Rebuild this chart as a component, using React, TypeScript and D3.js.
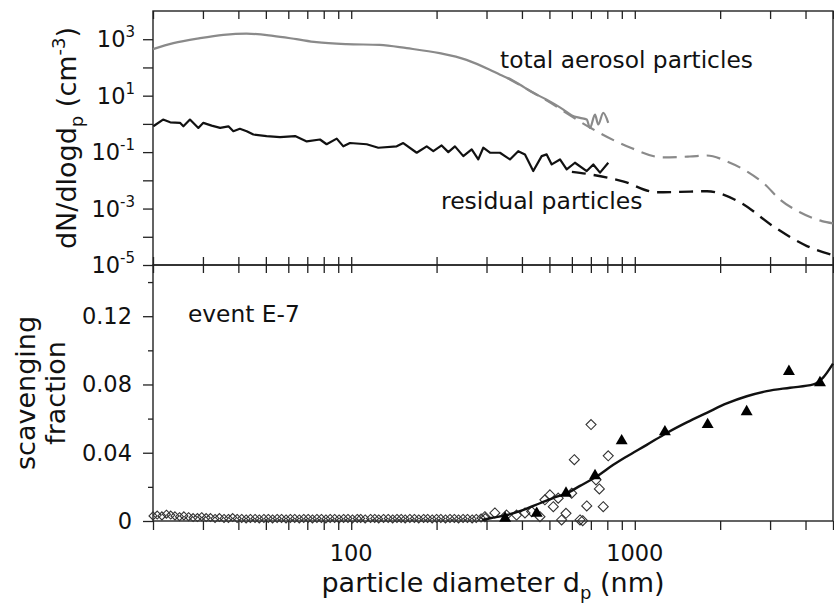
import { useEffect, useRef } from "react";
import * as d3 from "d3";

// top panel: size distributions, [diameter nm, dN/dlogdp cm^-3]
const totalSmps: [number, number][] = [
  [20, 445], [23.6, 724], [29.3, 1087], [35.4, 1422], [42.7, 1581], [53, 1313],
  [64.1, 1002], [75.4, 785], [96.2, 668], [126, 631], [157, 482], [205, 321],
  [255, 186], [308, 83], [335, 55], [365, 38], [394, 24.4], [430, 14], [489, 7.2],
  [525, 4.8], [560, 3.2], [600, 2.0], [641, 1.63], [677, 1.42], [695, 0.72],
  [724, 2.13], [743, 0.95], [774, 2.45], [806, 1.09],
];
const totalFit: [number, number][] = [
  [354, 43], [490, 6.7], [695, 0.74], [962, 0.146], [1257, 0.065], [1564, 0.07],
  [1796, 0.076], [2113, 0.047], [2484, 0.0207], [2875, 0.0072], [3250, 0.0021],
  [3822, 7.4e-4], [4570, 3.6e-4], [5000, 3.0e-4],
];
const residSmps: [number, number][] = [
  [20.05, 0.824], [21.7, 1.42], [23.0, 1.14], [24.9, 1.09], [25.6, 0.82], [27.0, 1.42],
  [28.9, 0.72], [30.1, 1.09], [32.2, 0.87], [34.5, 0.72], [36.9, 0.82], [38.4, 0.55],
  [40.5, 0.67], [42.8, 0.55], [45.2, 0.42], [50.3, 0.37], [56.1, 0.34], [63.4, 0.37],
  [69.7, 0.24], [77.6, 0.28], [81.9, 0.19], [88.9, 0.3], [93.8, 0.16], [99, 0.21],
  [113.4, 0.19], [124.6, 0.143], [144.7, 0.16], [152.6, 0.21], [170.2, 0.095],
  [184.6, 0.16], [194.8, 0.108], [208.4, 0.172], [220, 0.1], [232.2, 0.16],
  [248.5, 0.072], [266, 0.124], [280.6, 0.055], [292.2, 0.143], [308.6, 0.095],
  [334.6, 0.095], [362.9, 0.055], [388.1, 0.108], [410, 0.083], [438.5, 0.0213],
  [469.5, 0.072], [489, 0.083], [509.3, 0.0366], [544.8, 0.055], [575.2, 0.0244],
  [615.2, 0.042], [676.8, 0.0213], [714, 0.0366], [754, 0.0187], [806.3, 0.042],
];
const residFit: [number, number][] = [
  [600, 0.02], [695, 0.0163], [908, 0.0092], [1197, 0.00377], [1443, 0.0039],
  [1797, 0.0041], [2349, 0.00167], [3070, 2.4e-4], [4047, 4.7e-5], [5000, 2.25e-5],
];

// bottom panel: scavenging fraction, [diameter nm, fraction]
const smpsFraction: [number, number][] = [
  [20.0, 0.003], [20.7, 0.0035], [21.5, 0.003], [22.3, 0.004], [23.1, 0.0035], [23.9, 0.003],
  [24.8, 0.0025], [25.7, 0.003], [26.7, 0.0025], [27.7, 0.002], [28.7, 0.002], [29.7, 0.0025],
  [30.8, 0.002], [31.9, 0.002], [33.1, 0.0015], [34.3, 0.002], [35.6, 0.0015], [36.9, 0.0015],
  [38.2, 0.002], [39.6, 0.0015], [41.1, 0.0015], [42.6, 0.0012], [44.1, 0.0015], [45.8, 0.0015],
  [47.4, 0.0012], [49.2, 0.0015], [51.0, 0.0015], [52.8, 0.0012], [54.8, 0.0015], [56.8, 0.0015],
  [58.9, 0.0012], [61.0, 0.0015], [63.2, 0.0015], [65.6, 0.0012], [68.0, 0.0015], [70.5, 0.0015],
  [73.0, 0.0012], [75.7, 0.0015], [78.5, 0.0015], [81.4, 0.0012], [84.3, 0.0015], [87.4, 0.0015],
  [90.6, 0.0012], [94.0, 0.0015], [97.4, 0.0015], [101, 0.0012], [105, 0.0015], [108, 0.0015],
  [112, 0.0012], [117, 0.0015], [121, 0.0015], [125, 0.0012], [130, 0.0015], [135, 0.0015],
  [140, 0.0012], [145, 0.0015], [150, 0.0015], [155, 0.0012], [161, 0.0015], [167, 0.0015],
  [173, 0.0012], [180, 0.0015], [186, 0.0015], [193, 0.0012], [200, 0.0015], [207, 0.0015],
  [215, 0.0012], [223, 0.0015], [231, 0.0015], [239, 0.0012], [248, 0.0015], [257, 0.0015],
  [267, 0.0012], [276, 0.0015], [287, 0.0018], [297, 0.002],
];
const opcFraction: [number, number][] = [
  [296, 0.0025], [321, 0.0047], [353, 0.0035], [383, 0.0035], [410, 0.0047], [433, 0.0055],
  [463, 0.0025], [482, 0.0124], [502, 0.0153], [516, 0.0084], [537, 0.0134], [552, 0.0006],
  [572, 0.0045], [599, 0.0163], [612, 0.0359], [641, 0.0006], [655, 0.0002], [677, 0.0088],
  [701, 0.0565], [730, 0.0241], [750, 0.0188], [774, 0.0084], [806, 0.0382],
];
const modelFraction: [number, number][] = [
  [349, 0.0016], [451, 0.0045], [572, 0.0163], [724, 0.0265], [899, 0.047], [1277, 0.0522],
  [1807, 0.0565], [2480, 0.064], [3496, 0.0876], [4498, 0.081],
];
const fitFraction: [number, number][] = [
  [290, 0.0005], [309, 0.0016], [354, 0.0035], [405, 0.0065], [463, 0.0104], [531, 0.0143],
  [576, 0.0163], [641, 0.0206], [734, 0.0261], [840, 0.0329], [937, 0.0378], [1102, 0.0446],
  [1296, 0.0516], [1525, 0.0578], [1794, 0.0634], [2110, 0.0689], [2483, 0.0731],
  [2920, 0.0761], [3529, 0.0781], [4265, 0.08], [4613, 0.084], [5000, 0.0922],
];

const topExponents = [3, 1, -1, -3, -5];
const fracTicks = [0, 0.04, 0.08, 0.12];
const fracMinor = [0.02, 0.06, 0.1, 0.14];
const xLabels = [100, 1000];

const W = 834, H = 608;
const L = 153, R = 833, T = 11, MID = 265, B = 521;
const FONT = "'DejaVu Sans', sans-serif";

export default function App() {
  const ref = useRef<SVGSVGElement>(null);

  useEffect(() => {
    const svg = d3.select(ref.current);
    svg.selectAll("*").remove();

    const x = d3.scaleLog().domain([20, 5000]).range([L, R]);
    const yTop = d3.scaleLog().domain([1e-5, 1e4]).range([MID, T]);
    const yBot = d3.scaleLinear().domain([0, 0.15]).range([B, MID]);
    const xTicks = x.ticks();

    const ink = "#222";
    const axis = (g: any) => {
      g.select(".domain").remove();
      g.selectAll("line").attr("stroke", ink).attr("stroke-width", 1.3);
    };

    // x ticks on every horizontal edge
    svg.append("g").attr("transform", `translate(0,${T})`)
      .call(d3.axisBottom(x).tickValues(xTicks).tickSize(8).tickFormat(() => "")).call(axis);
    svg.append("g").attr("transform", `translate(0,${MID})`)
      .call(d3.axisTop(x).tickValues(xTicks).tickSize(8).tickFormat(() => "")).call(axis);
    svg.append("g").attr("transform", `translate(0,${MID})`)
      .call(d3.axisBottom(x).tickValues(xTicks).tickSize(8).tickFormat(() => "")).call(axis);
    svg.append("g").attr("transform", `translate(0,${B})`)
      .call(d3.axisBottom(x).tickValues(xTicks).tickSize(9).tickFormat(() => "")).call(axis);

    // y ticks
    const decades = d3.range(-5, 4).map(e => Math.pow(10, e));
    svg.append("g").attr("transform", `translate(${L},0)`)
      .call(d3.axisLeft(yTop).tickValues(decades).tickSize(10).tickFormat(() => "")).call(axis);
    svg.append("g").attr("transform", `translate(${L},0)`)
      .call(d3.axisLeft(yBot).tickValues(fracTicks).tickSize(10).tickFormat(() => "")).call(axis);
    svg.append("g").attr("transform", `translate(${L},0)`)
      .call(d3.axisLeft(yBot).tickValues(fracMinor).tickSize(5).tickFormat(() => "")).call(axis);

    // frames
    [[T, MID], [MID, B]].forEach(([a, b]) => {
      svg.append("rect").attr("x", L).attr("y", a).attr("width", R - L).attr("height", b - a)
        .attr("fill", "none").attr("stroke", ink).attr("stroke-width", 1.4);
    });

    // top panel lines
    const smooth = d3.line<[number, number]>().x(d => x(d[0])).y(d => yTop(d[1])).curve(d3.curveMonotoneX);
    const jagged = d3.line<[number, number]>().x(d => x(d[0])).y(d => yTop(d[1]));
    svg.append("path").attr("d", smooth(totalFit)).attr("fill", "none")
      .attr("stroke", "#8a8a8a").attr("stroke-width", 2.2).attr("stroke-dasharray", "14,8");
    svg.append("path").attr("d", smooth(residFit)).attr("fill", "none")
      .attr("stroke", "#111").attr("stroke-width", 2.4).attr("stroke-dasharray", "14,8");
    svg.append("path").attr("d", smooth(totalSmps)).attr("fill", "none")
      .attr("stroke", "#8a8a8a").attr("stroke-width", 2.2);
    svg.append("path").attr("d", jagged(residSmps))
      .attr("fill", "none").attr("stroke", "#111").attr("stroke-width", 2.2).attr("stroke-linejoin", "round");

    // bottom panel
    const small = "M0,-4L4,0L0,4L-4,0Z";
    const big = "M0,-5L5,0L0,5L-5,0Z";
    svg.append("g").selectAll("path").data(smpsFraction).join("path")
      .attr("d", small)
      .attr("transform", d => `translate(${x(d[0])},${yBot(d[1])})`)
      .attr("fill", "none").attr("stroke", "#333").attr("stroke-width", 1.1);
    svg.append("g").selectAll("path").data(opcFraction).join("path")
      .attr("d", big)
      .attr("transform", d => `translate(${x(d[0])},${yBot(d[1])})`)
      .attr("fill", "none").attr("stroke", "#333").attr("stroke-width", 1.1);

    const fitLine = d3.line<[number, number]>().x(d => x(d[0])).y(d => yBot(d[1])).curve(d3.curveMonotoneX);
    svg.append("path").attr("d", fitLine(fitFraction)).attr("fill", "none")
      .attr("stroke", "#111").attr("stroke-width", 2.4);

    const tri = d3.symbol(d3.symbolTriangle, 62);
    svg.append("g").selectAll("path").data(modelFraction).join("path")
      .attr("d", tri)
      .attr("transform", d => `translate(${x(d[0])},${yBot(d[1])})`)
      .attr("fill", "#000");

    // tick labels
    const txt = (px: number, py: number, size: number, anchor = "start") =>
      svg.append("text").attr("x", px).attr("y", py).attr("font-size", size)
        .attr("font-family", FONT).attr("fill", "#111").attr("text-anchor", anchor);

    topExponents.forEach(e => {
      const t = txt(135, yTop(Math.pow(10, e)) + 8, 22.5, "end");
      t.append("tspan").text("10");
      t.append("tspan").attr("dy", -10).attr("font-size", 15).text(String(e));
    });
    fracTicks.forEach(v => {
      txt(132, yBot(v) + 8, 22.5, "end").text(v === 0 ? "0" : v.toFixed(2));
    });
    xLabels.forEach(v => {
      txt(x(v), 561, 22.5, "middle").text(String(v));
    });

    // axis titles
    const xt = txt((L + R) / 2, 592, 27, "middle");
    xt.append("tspan").text("particle diameter d");
    xt.append("tspan").attr("dy", 7).attr("font-size", 18).text("p");
    xt.append("tspan").attr("dy", -7).text(" (nm)");

    const yt = svg.append("text").attr("transform", `translate(76,${(T + MID) / 2}) rotate(-90)`)
      .attr("font-size", 27).attr("font-family", FONT).attr("fill", "#111").attr("text-anchor", "middle");
    yt.append("tspan").text("dN/dlogd");
    yt.append("tspan").attr("dy", 7).attr("font-size", 18).text("p");
    yt.append("tspan").attr("dy", -7).text(" (cm");
    yt.append("tspan").attr("dy", -11).attr("font-size", 18).text("-3");
    yt.append("tspan").attr("dy", 11).text(")");

    ["scavenging", "fraction"].forEach((s, i) => {
      svg.append("text").attr("transform", `translate(${35 + i * 30},${(MID + B) / 2}) rotate(-90)`)
        .attr("font-size", 27).attr("font-family", FONT).attr("fill", "#111")
        .attr("text-anchor", "middle").text(s);
    });

    // annotations
    txt(500, 68, 23.3).text("total aerosol particles");
    txt(441, 209, 23.5).text("residual particles");
    txt(188, 322, 23.3).text("event E-7");
  }, []);

  return (
    <svg ref={ref} width={W} height={H}
      style={{ position: "absolute", left: 0, top: 0, background: "#fff" }} />
  );
}
